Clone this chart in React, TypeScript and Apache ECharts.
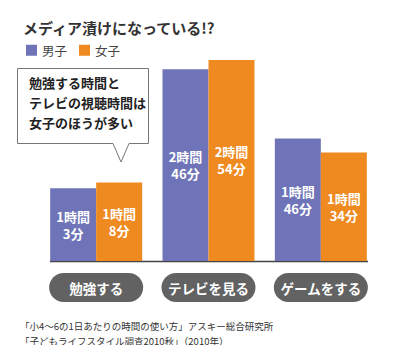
import React, { useEffect, useRef } from "react";
import * as echarts from "echarts";

const categories = ["勉強する", "テレビを見る", "ゲームをする"];
const seriesNames = ["男子", "女子"];
const boysMinutes = [63, 166, 106];
const girlsMinutes = [68, 174, 94];
const boysLabels = ["1時間\n3分", "2時間\n46分", "1時間\n46分"];
const girlsLabels = ["1時間\n8分", "2時間\n54分", "1時間\n34分"];
const titleText = "メディア漬けになっている!?";
const calloutLines = ["勉強する時間と", "テレビの視聴時間は", "女子のほうが多い"];
const sourceLines = [
  "「小4～6の1日あたりの時間の使い方」アスキー総合研究所",
  "「子どもライフスタイル調査2010秋」（2010年）",
];

const FONT = "'Noto Sans CJK JP', 'Noto Sans', sans-serif";
const BLUE = "#6f74b8";
const ORANGE = "#ef8a20";

export default function App() {
  const ref = useRef<HTMLDivElement>(null);
  useEffect(() => {
    if (!ref.current) return;
    const chart = echarts.init(ref.current, undefined, { renderer: "svg" });
    const mkLabel = (labels: string[]) => ({
      show: true,
      position: "inside",
      color: "#fff",
      fontFamily: FONT,
      fontSize: 13,
      fontWeight: "bold",
      lineHeight: 17,
      formatter: (p: any) => labels[p.dataIndex],
    });
    chart.setOption({
      animation: false,
      textStyle: { fontFamily: FONT },
      title: {
        text: titleText,
        left: 18,
        top: 15,
        textStyle: { fontFamily: FONT, fontSize: 15, fontWeight: "bold", color: "#333" },
      },
      legend: {
        left: 21,
        top: 39,
        icon: "rect",
        itemWidth: 11,
        itemHeight: 11,
        itemGap: 12,
        textStyle: { fontFamily: FONT, fontSize: 12.5, color: "#444" },
        data: seriesNames,
      },
      grid: { left: 40, right: 23, top: 53, bottom: 92 },
      xAxis: {
        type: "category",
        data: categories,
        axisLine: { show: false },
        axisTick: { show: false },
        axisLabel: {
          margin: 12,
          color: "#fff",
          fontFamily: FONT,
          fontSize: 13.5,
          fontWeight: "bold",
          backgroundColor: "#626262",
          borderRadius: 15,
          width: 94,
          height: 29,
          lineHeight: 29,
          align: "center",
        },
      },
      yAxis: {
        type: "value",
        min: 0,
        max: 180,
        show: false,
        splitLine: { show: false },
      },
      series: [
        {
          name: seriesNames[0],
          type: "bar",
          data: boysMinutes,
          barWidth: 46,
          barGap: "0%",
          itemStyle: { color: BLUE },
          label: mkLabel(boysLabels),
        },
        {
          name: seriesNames[1],
          type: "bar",
          data: girlsMinutes,
          barWidth: 46,
          barGap: "0%",
          itemStyle: { color: ORANGE },
          label: mkLabel(girlsLabels),
        },
      ],
      graphic: [
        {
          type: "line",
          shape: { x1: 50, y1: 261.5, x2: 368, y2: 261.5 },
          style: { stroke: "#444", lineWidth: 1.5 },
        },
        {
          type: "polygon",
          shape: {
            points: [
              [17.5, 68.5],
              [148.5, 68.5],
              [148.5, 143.5],
              [129, 143.5],
              [121, 162],
              [113, 143.5],
              [17.5, 143.5],
            ],
          },
          style: { fill: "#fff", stroke: "#777", lineWidth: 1 },
        },
        ...calloutLines.map((t, i) => ({
          type: "text",
          left: 29,
          top: 76 + i * 20,
          style: {
            text: t,
            fontFamily: FONT,
            fontSize: 13,
            fontWeight: "bold",
            fill: "#222",
          },
        })),
        ...sourceLines.map((t, i) => ({
          type: "text",
          left: 20,
          top: 321 + i * 15,
          style: {
            text: t,
            fontFamily: FONT,
            fontSize: 9.5,
            fill: "#333",
          },
        })),
      ],
    });
    return () => chart.dispose();
  }, []);
  return <div ref={ref} style={{ width: 400, height: 353, margin: -8 }} />;
}
